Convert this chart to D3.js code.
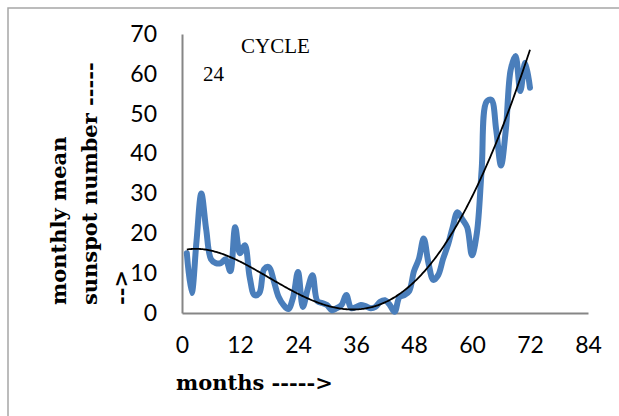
<!DOCTYPE html>
<html><head><meta charset="utf-8">
<script src="https://cdn.jsdelivr.net/npm/d3@7"></script>
<style>html,body{margin:0;padding:0;background:#fff;}svg{display:block;}</style>
</head><body>
<svg id="c" width="619" height="416"></svg>
<script>
const months = d3.range(1, 73);
const sunspots = [15, 5, 18, 30, 21, 13.5, 12.5, 12.5, 13.5, 10.5,
  21.5, 15, 17, 9, 4.5, 5, 11, 11.5, 8, 4,
  2, 1, 4, 10.3, 1.5, 6, 9.5, 3, 2.5, 2,
  0.7, 1.2, 2, 4.5, 1.2, 1.5, 2, 1.7, 1.2, 1.5,
  2.8, 3.2, 2, 0.3, 4, 4.5, 5.5, 10.5, 13.5, 18.7,
  12.5, 8.3, 9.5, 13.5, 17, 21.5, 25.3, 23.5, 21.5, 14.5,
  20, 36, 53, 53.5, 46, 37, 46, 61, 64.5, 55.7, 62.8, 56.5];
const xTicks = [0, 12, 24, 36, 48, 60, 72, 84];
const yTicks = [0, 10, 20, 30, 40, 50, 60, 70];
const yTitleLines = ["monthly mean", "sunspot number -----", "-->"];
const xTitle = "months ----->";
const note1 = "CYCLE", note2 = "24";

const svg = d3.select("#c");
const x = d3.scaleLinear().domain([0, 84]).range([182, 588]);
const y = d3.scaleLinear().domain([0, 70]).range([313, 34]);

svg.append("rect").attr("x", 8).attr("y", 8).attr("width", 700).attr("height", 500)
  .attr("fill", "none").attr("stroke", "#a6a6a6").attr("stroke-width", 1.5);

// axes
const gx = svg.append("g").attr("transform", "translate(0,313)")
  .call(d3.axisBottom(x).tickValues(xTicks).tickSize(0).tickPadding(18));
const gy = svg.append("g").attr("transform", "translate(182,0)")
  .call(d3.axisLeft(y).tickValues(yTicks).tickSize(0).tickPadding(25));
[gx, gy].forEach(g => {
  g.select(".domain").attr("stroke", "#868686").attr("stroke-width", 2);
  g.selectAll("text").attr("font-family", "Lato, 'Open Sans', sans-serif")
    .attr("font-size", 23).attr("fill", "#000");
});
gx.selectAll("text").attr("dy", "0.95em");

// data line
const line = d3.line().x((d, i) => x(months[i])).y(d => y(d)).curve(d3.curveCatmullRom);
svg.append("path").datum(sunspots).attr("d", line)
  .attr("fill", "none").attr("stroke", "#4a7ebb").attr("stroke-width", 6)
  .attr("stroke-linejoin", "round").attr("stroke-linecap", "round");

// polynomial trendline (least squares on the data)
function polyfit(xs, ys, deg) {
  const n = deg + 1;
  const A = Array.from({length: n}, () => Array(n + 1).fill(0));
  for (let k = 0; k < xs.length; k++) {
    const t = xs[k] / 72;
    for (let i = 0; i < n; i++) {
      for (let j = 0; j < n; j++) A[i][j] += Math.pow(t, i + j);
      A[i][n] += ys[k] * Math.pow(t, i);
    }
  }
  for (let i = 0; i < n; i++) {
    let p = i;
    for (let r = i + 1; r < n; r++) if (Math.abs(A[r][i]) > Math.abs(A[p][i])) p = r;
    [A[i], A[p]] = [A[p], A[i]];
    for (let r = 0; r < n; r++) if (r !== i) {
      const f = A[r][i] / A[i][i];
      for (let c = i; c <= n; c++) A[r][c] -= f * A[i][c];
    }
  }
  const co = A.map((row, i) => row[n] / row[i]);
  return v => co.reduce((s, c, i) => s + c * Math.pow(v / 72, i), 0);
}
const fit = polyfit(months, sunspots, 4);
const trendX = d3.range(1, 72.01, 0.25);
const trend = trendX.map(fit);
svg.append("path").datum(trend)
  .attr("d", d3.line().x((d, i) => x(trendX[i])).y(d => y(d)))
  .attr("fill", "none").attr("stroke", "#000").attr("stroke-width", 1.8);

// notes
svg.append("text").attr("x", 241).attr("y", 53).text(note1)
  .attr("font-family", "'Liberation Serif', serif").attr("font-size", 21);
svg.append("text").attr("x", 203).attr("y", 81).text(note2)
  .attr("font-family", "'Liberation Serif', serif").attr("font-size", 21);

// titles
svg.append("text").attr("x", 176).attr("y", 390).text(xTitle)
  .attr("font-family", "'DejaVu Serif', serif").attr("font-weight", "bold").attr("font-size", 21);
const yt = svg.append("text").attr("transform", "translate(66,305) rotate(-90)")
  .attr("font-family", "'DejaVu Serif', serif").attr("font-weight", "bold").attr("font-size", 21);
yTitleLines.forEach((t, i) => yt.append("tspan").attr("x", 0).attr("y", i * 31).text(t));
</script>
</body></html>
